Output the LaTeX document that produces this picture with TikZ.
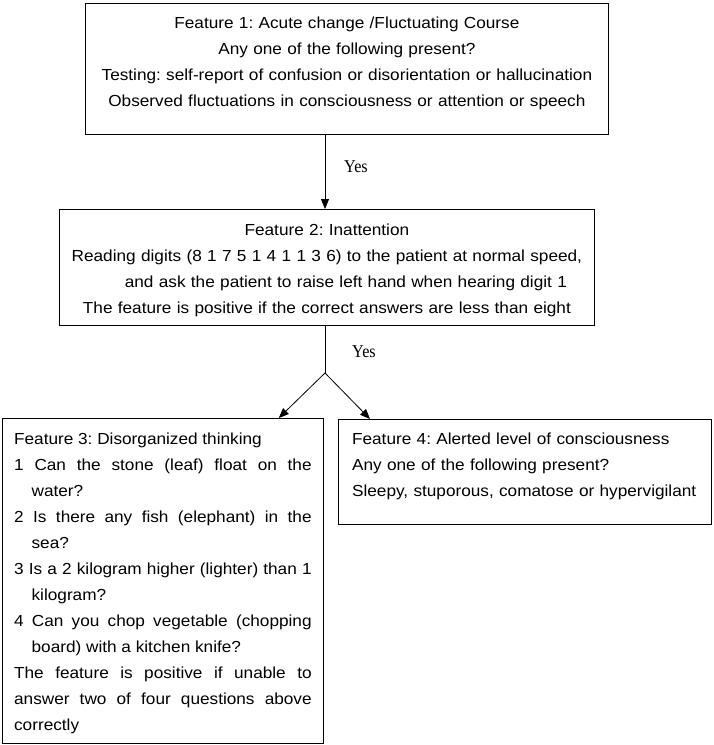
\documentclass[tikz,border=0pt]{standalone}
\usepackage{fontspec}
\setmainfont{Liberation Sans}[FakeStretch=1.075]
\newfontfamily\yesfont{Liberation Serif}[FakeStretch=0.9]
\usetikzlibrary{arrows, arrows.meta}
\usetikzlibrary{calc}
\frenchspacing

\begin{document}
\begin{tikzpicture}[x=1pt, y=-1pt,
    featbox/.style={draw, line width=0.8pt, anchor=north west, inner ysep=0pt,
      font=\fontsize{16}{26}\selectfont},
    yes/.style={font=\yesfont\fontsize{18}{20}\selectfont, inner sep=0pt},
    arr/.style={line width=0.8pt, -{Triangle[length=10pt, width=8pt]}}]
  \useasboundingbox (0,0) rectangle (713,745);

  \node[featbox, inner xsep=12pt, text width=499pt, align=center,
        text height=25pt, text depth=106pt] (f1) at (85,3)
    {Feature 1: Acute change /Fluctuating Course\\
     Any one of the following present?\\
     Testing: self-report of confusion or disorientation or hallucination\\
     Observed fluctuations in consciousness or attention or speech};

  \node[featbox, inner xsep=12pt, text width=511pt, align=center,
        text height=26pt, text depth=90pt] (f2) at (59,209)
    {Feature 2: Inattention\\
     Reading digits (8 1 7 5 1 4 1 1 3 6) to the patient at normal speed,\\
     \hspace*{38pt}and ask the patient to raise left hand when hearing digit 1\\
     The feature is positive if the correct answers are less than eight};

  \node[featbox, inner xsep=11.75pt, text width=297.5pt, align=justify,
        text height=26pt, text depth=299pt] (f3) at (2,418)
    {\hyphenpenalty=10000\tolerance=9999
     Feature 3: Disorganized thinking\par
     \hangindent=17.5pt\relax
     1 Can the stone (leaf) float on the\linebreak water?\par
     \hangindent=17.5pt\relax
     2 Is there any fish (elephant) in the\linebreak sea?\par
     \hangindent=17.5pt\relax
     3 Is a 2 kilogram higher (lighter) than 1\linebreak kilogram?\par
     \hangindent=17.5pt\relax
     4 Can you chop vegetable (chopping\linebreak board) with a kitchen knife?\par
     The feature is positive if unable to\linebreak answer two of four questions above\linebreak correctly};

  \node[featbox, inner xsep=13.7pt, text width=345.6pt, align=left,
        text height=25pt, text depth=80pt] (f4) at (338,419)
    {Feature 4: Alerted level of consciousness\\
     Any one of the following present?\\
     Sleepy, stuporous, comatose or hypervigilant};

  \coordinate (split) at (325,373);

  \draw[arr] (f1.south -| split) -- (f2.north -| split);
  \draw[line width=0.8pt] (f2.south -| split) -- (split);
  \draw[arr] (split) -- ([xshift=-45pt]f3.north east);
  \draw[arr] (split) -- ([xshift=32pt]f4.north west);

  \node[yes] (yes1) at (356,167) {Yes};
  \node[yes] (yes2) at (364,352) {Yes};
\end{tikzpicture}
\end{document}
